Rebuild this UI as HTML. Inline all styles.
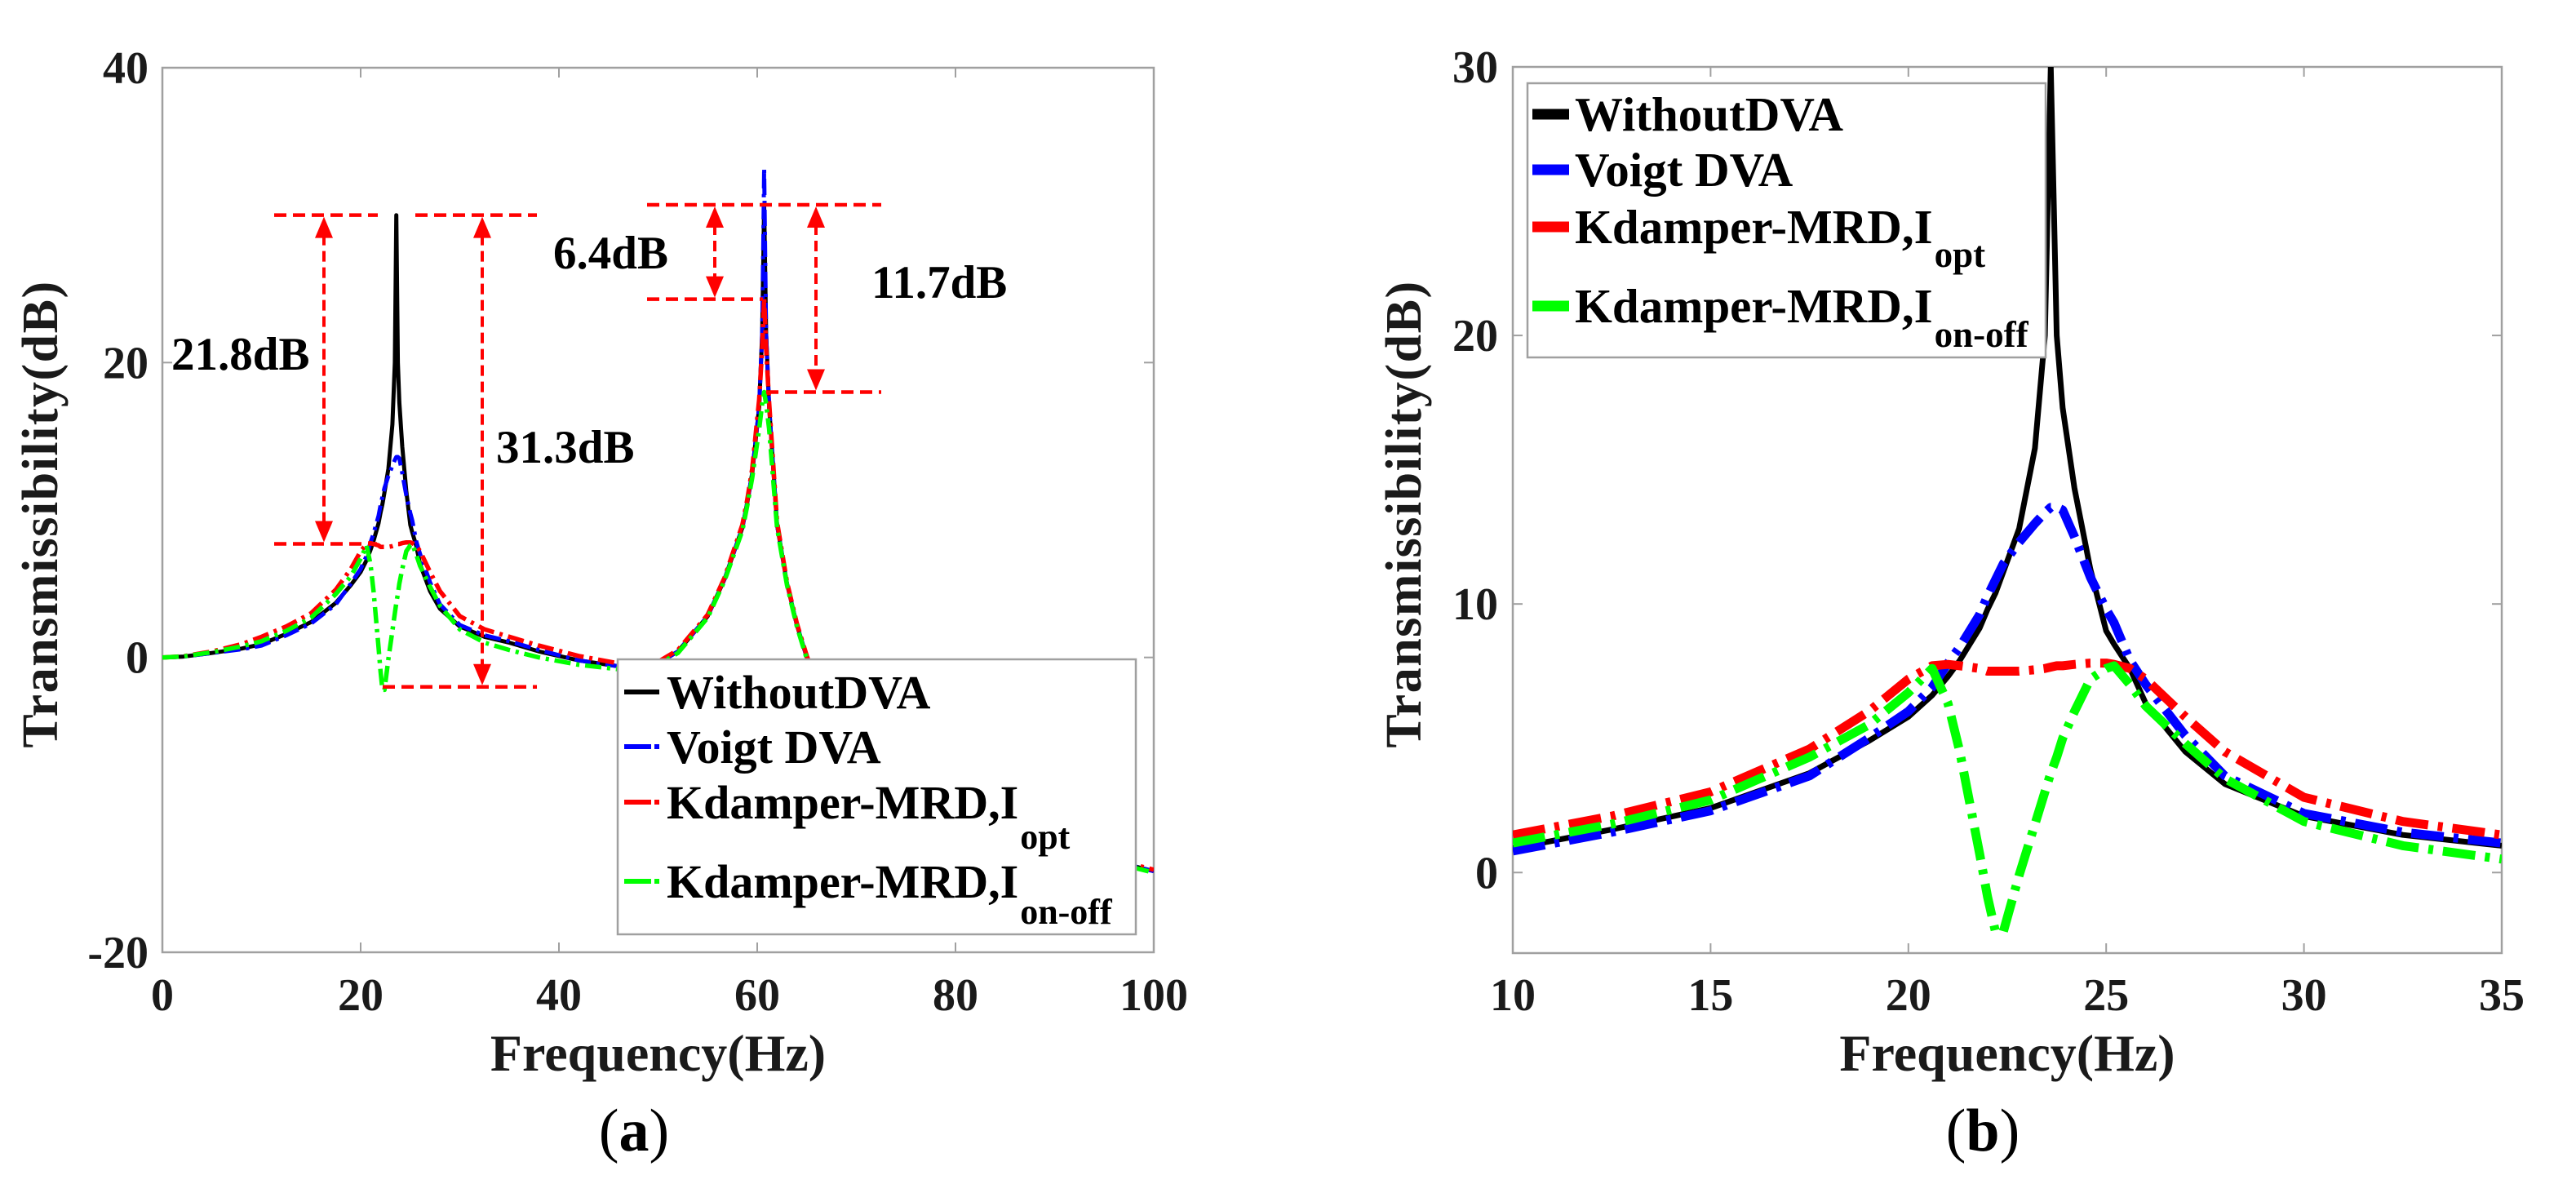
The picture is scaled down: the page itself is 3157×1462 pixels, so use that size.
<!DOCTYPE html>
<html><head><meta charset="utf-8"><style>
html,body{margin:0;padding:0;background:#fff;}
svg{display:block;font-family:"Liberation Serif","Times New Roman",serif;}
svg text{font-family:"Liberation Serif","Times New Roman",serif;}
</style></head><body>
<svg id="fig" width="3157" height="1462" viewBox="0 0 3157 1462" xmlns="http://www.w3.org/2000/svg" font-family="Liberation Serif, serif">
<defs>
<clipPath id="clipA"><rect x="199" y="83" width="1215" height="1084"/></clipPath>
<clipPath id="clipB"><rect x="1854" y="82" width="1212" height="1086"/></clipPath>
</defs>
<g id="gA"></g>
<g id="gB"></g>
</svg>
<script>
// ---- data ----
const bFreq = [10,12.5,15,17.5,19,20,20.6,21,21.3,21.8,22,22.2,22.4,22.8,23.2,23.45,23.6,23.75,23.9,24.2,24.6,25,25.2,25.6,26,27,28,30,32.5,35];
const bBlack = [0.9,1.6,2.4,3.7,4.9,5.8,6.6,7.3,7.9,9.1,9.8,10.4,11.2,12.8,15.8,20,30,20,17.3,14.3,11.3,9.0,8.5,7.6,6.3,4.5,3.3,2.1,1.4,1.0];
const bBlue = [0.8,1.5,2.3,3.6,5.0,6.0,6.9,7.8,8.4,9.6,10.3,10.9,11.5,12.3,13.0,13.4,13.6,13.6,13.5,12.5,11.0,9.8,9.3,7.9,7.0,5.1,3.6,2.2,1.5,1.1];
const bRed = [1.4,2.1,3.0,4.6,6.0,7.2,7.7,7.75,7.7,7.6,7.5,7.5,7.5,7.5,7.55,7.6,7.65,7.7,7.7,7.75,7.8,7.8,7.75,7.6,7.2,5.8,4.5,2.8,1.9,1.4];
const bGreen = [1.1,1.8,2.7,4.3,5.5,6.7,7.6,6.3,4.5,0.7,-0.9,-2.2,-2.2,-0.1,1.8,3.0,3.7,4.3,5.0,6.0,7.2,7.6,7.7,7.0,6.2,4.8,3.5,1.9,1.0,0.5];

const aFreqLow = [0,2,5,8];
const aFreqHigh = [38,42,46,50,52,55,56.7,58.5,59,59.5,60.2,60.5,60.7,60.9,61.2,62,63,64,65,66,70,80,90,100];
const aBlackLow = [0,0.05,0.3,0.6];
const aBlueLow = [0,0.05,0.3,0.55];
const aRedLow = [0,0.07,0.4,0.9];
const aGreenLow = [0,0.06,0.35,0.75];
const aBlackHigh = [0.4,-0.2,-0.6,-0.4,0.4,2.8,5.3,8.8,10.5,12.5,17,22,30.7,22,17,9,5,2.2,0,-1.8,-6,-10.5,-12.8,-14.5];
const aBlueHigh = [0.5,-0.2,-0.6,-0.4,0.4,2.8,5.3,8.8,10.5,12.5,17,22,33.2,22,17,9,5,2.2,0,-1.8,-6,-10.5,-12.8,-14.5];
const aRedHigh = [0.8,0.1,-0.4,-0.3,0.5,2.9,5.4,9,10.7,12.8,17.5,21,24.4,21,17.3,9.2,5.1,2.3,0.1,-1.7,-5.9,-10.4,-12.7,-14.4];
const aGreenHigh = [0.0,-0.5,-0.8,-0.5,0.3,2.7,5.2,8.6,10.3,12.2,15.5,17.2,18,17.2,15.5,8.8,4.9,2.1,-0.1,-1.9,-6.1,-10.6,-12.9,-14.6];

const aXTicks = [0,20,40,60,80,100];
const aYTicks = [-20,0,20,40];
const bXTicks = [10,15,20,25,30,35];
const bYTicks = [0,10,20,30];
const seriesNames = ["WithoutDVA","Voigt DVA","Kdamper-MRD,I","Kdamper-MRD,I"];
const seriesSubs = ["","","opt","on-off"];
const seriesColors = ["#000000","#0000ff","#ff0000","#00ff00"];
const annPeak1 = 30, annLow1 = 7.7, annMin1 = -2;
const annPeak2 = 30.7, annMid2 = 24.3, annLow2 = 18.0;

const NS = "http://www.w3.org/2000/svg";
const FF = "Liberation Serif, Times New Roman, serif";
function mk(tag, attrs, parent){
  const e = document.createElementNS(NS, tag);
  for (const k in attrs) e.setAttribute(k, attrs[k]);
  if (tag === "text") e.setAttribute("font-family", FF);
  parent.appendChild(e); return e;
}

const axA = {x0:199,x1:1414,y0:83,y1:1167,xmin:0,xmax:100,ymin:-20,ymax:40};
const axB = {x0:1854,x1:3066,y0:82,y1:1168,xmin:10,xmax:35,ymin:-3,ymax:30};
function sx(ax,v){return ax.x0+(v-ax.xmin)/(ax.xmax-ax.xmin)*(ax.x1-ax.x0);}
function sy(ax,v){return ax.y1-(v-ax.ymin)/(ax.ymax-ax.ymin)*(ax.y1-ax.y0);}

function drawAxes(g, ax, xt, yt, tickFont, yLabelRight, titleX, titleY, panelLabelX, panelLabel){
  const box = mk("rect",{x:ax.x0,y:ax.y0,width:ax.x1-ax.x0,height:ax.y1-ax.y0,fill:"none",stroke:"#a0a0a0","stroke-width":2.5},g);
  
  
  xt.forEach(v=>{
    const x = sx(ax,v);
    const t1 = mk("line",{x1:x,y1:ax.y1,x2:x,y2:ax.y1-12,stroke:"#a0a0a0","stroke-width":2},g);
    
    
    const t2 = mk("line",{x1:x,y1:ax.y0,x2:x,y2:ax.y0+12,stroke:"#a0a0a0","stroke-width":2},g);
    
    
    const tx = mk("text",{x:x,y:1238,"text-anchor":"middle","font-size":tickFont,"font-weight":"bold",fill:"#1a1a1a"},g);
    tx.textContent = v;
    
    
  });
  yt.forEach(v=>{
    const y = sy(ax,v);
    const t1 = mk("line",{x1:ax.x0,y1:y,x2:ax.x0+12,y2:y,stroke:"#a0a0a0","stroke-width":2},g);
    
    
    const t2 = mk("line",{x1:ax.x1,y1:y,x2:ax.x1-12,y2:y,stroke:"#a0a0a0","stroke-width":2},g);
    
    
    const ty = mk("text",{x:yLabelRight,y:y+19,"text-anchor":"end","font-size":tickFont,"font-weight":"bold",fill:"#1a1a1a"},g);
    ty.textContent = v;
    
    
  });
  const xt2 = mk("text",{x:(ax.x0+ax.x1)/2,y:1312,"text-anchor":"middle","font-size":64,"font-weight":"bold",fill:"#1a1a1a"},g);
  xt2.textContent = "Frequency(Hz)";
  
  
  const yt2 = mk("text",{x:0,y:0,"text-anchor":"middle","font-size":62,"font-weight":"bold","letter-spacing":1.5,fill:"#1a1a1a",transform:`translate(${titleX},${titleY}) rotate(-90)`},g);
  yt2.textContent = "Transmissibility(dB)";
  
  
  const pl = mk("text",{x:panelLabelX,y:1410,"text-anchor":"middle","font-size":74,fill:"#000"},g);
  pl.innerHTML = `(<tspan font-weight="bold">${panelLabel}</tspan>)`;
  
  
}

function drawSeries(g, ax, fr, vals, color, width, dash, clip, name){
  const d = fr.map((f,i)=>(i?"L":"M")+sx(ax,f).toFixed(1)+","+sy(ax,vals[i]).toFixed(1)).join(" ");
  const p = mk("path",{d:d,fill:"none",stroke:color,"stroke-width":width,"stroke-linejoin":"round","clip-path":`url(#${clip})`},g);
  if (dash) p.setAttribute("stroke-dasharray",dash);
  
  
}

function drawLegend(g, x, y, w, h, fs, subfs, sampleX1, sampleX2, textX, baselines, subBaselines, sw, dashed){
  const r = mk("rect",{x:x,y:y,width:w,height:h,fill:"#fff",stroke:"#a0a0a0","stroke-width":2.5},g);
  
  
  seriesNames.forEach((nm,i)=>{
    const by = baselines[i];
    const ln = mk("line",{x1:sampleX1,y1:by-20,x2:sampleX2,y2:by-20,stroke:seriesColors[i],"stroke-width":sw},g);
    if (dashed && i>0) ln.setAttribute("stroke-dasharray", (sampleX2-sampleX1-10)+",4,6,100");
    
    
    const t = mk("text",{x:textX,y:by,"font-size":fs,"font-weight":"bold",fill:"#000"},g);
    t.textContent = nm;
    
    
    if (seriesSubs[i]){
      const bb = t.getComputedTextLength();
      const s = mk("text",{x:textX+bb+2,y:subBaselines[i],"font-size":subfs,"font-weight":"bold",fill:"#000"},g);
      s.textContent = seriesSubs[i];
      
      
    }
  });
}

function hdash(g, x1, x2, y){
  const l = mk("line",{x1:x1,y1:y,x2:x2,y2:y,stroke:"#ff0000","stroke-width":4.5,"stroke-dasharray":"15,8"},g);
  
  
}
function varrow(g, x, ya, yb){
  const l = mk("line",{x1:x,y1:ya+24,x2:x,y2:yb-24,stroke:"#ff0000","stroke-width":4,"stroke-dasharray":"13,7"},g);
  
  
  const h1 = mk("polygon",{points:`${x},${ya+2} ${x-11},${ya+28} ${x+11},${ya+28}`,fill:"#ff0000"},g);
  
  
  const h2 = mk("polygon",{points:`${x},${yb-2} ${x-11},${yb-28} ${x+11},${yb-28}`,fill:"#ff0000"},g);
  
  
}
function label(g, x, y, txt, name){
  const t = mk("text",{x:x,y:y,"font-size":57,"font-weight":"bold",fill:"#000"},g);
  t.textContent = txt;
  
  
}

// ---- Panel A ----
const gA = document.getElementById("gA");
const aFreq = aFreqLow.concat(bFreq, aFreqHigh);
const aBlack = aBlackLow.concat(bBlack, aBlackHigh);
const aBlue = aBlueLow.concat(bBlue, aBlueHigh);
const aRed = aRedLow.concat(bRed, aRedHigh);
const aGreen = aGreenLow.concat(bGreen, aGreenHigh);
drawAxes(gA, axA, aXTicks, aYTicks, 56, 182, 70, 630, 777, "a");
drawSeries(gA, axA, aFreq, aBlack, "#000", 5, null, "clipA", "line-without-dva");
drawSeries(gA, axA, aFreq, aBlue, "#0000ff", 5, "20,7,4,7", "clipA", "line-voigt-dva");
drawSeries(gA, axA, aFreq, aRed, "#ff0000", 5.5, "20,7,4,7", "clipA", "line-kdamper-opt");
drawSeries(gA, axA, aFreq, aGreen, "#00ff00", 5.5, "20,7,4,7", "clipA", "line-kdamper-onoff");
const yP1 = sy(axA,annPeak1), yL1 = sy(axA,annLow1), yM1 = sy(axA,annMin1);
hdash(gA, 336, 463, yP1); hdash(gA, 509, 658, yP1);
hdash(gA, 336, 462, yL1); hdash(gA, 469, 658, yM1);
varrow(gA, 397, yP1, yL1); varrow(gA, 591, yP1, yM1);
label(gA, 210, 453, "21.8dB", "annotation-21-8db");
label(gA, 608, 567, "31.3dB", "annotation-31-3db");
const yP2 = sy(axA,annPeak2), yM2 = sy(axA,annMid2), yL2 = sy(axA,annLow2);
hdash(gA, 793, 1080, yP2); hdash(gA, 793, 935, yM2); hdash(gA, 939, 1080, yL2);
varrow(gA, 876, yP2, yM2); varrow(gA, 1000, yP2, yL2);
label(gA, 678, 329, "6.4dB", "annotation-6-4db");
label(gA, 1068, 365, "11.7dB", "annotation-11-7db");
drawLegend(gA, 757, 808, 635, 337, 58, 44, 765, 808, 817, [868,935,1003,1100], [0,0,1040,1132], 6, true);

// ---- Panel B ----
const gB = document.getElementById("gB");
drawAxes(gB, axB, bXTicks, bYTicks, 56, 1836, 1741, 630, 2430, "b");
drawSeries(gB, axB, bFreq, bBlack, "#000", 7, null, "clipB", "line-without-dva");
drawSeries(gB, axB, bFreq, bBlue, "#0000ff", 11, "40,12,6,12", "clipB", "line-voigt-dva");
drawSeries(gB, axB, bFreq, bRed, "#ff0000", 11, "40,12,6,12", "clipB", "line-kdamper-opt");
drawSeries(gB, axB, bFreq, bGreen, "#00ff00", 11, "40,12,6,12", "clipB", "line-kdamper-onoff");
drawLegend(gB, 1872, 102, 635, 336, 59, 45, 1878, 1923, 1930, [160,228,298,395], [0,0,327,425], 13, false);
</script>
</body></html>
